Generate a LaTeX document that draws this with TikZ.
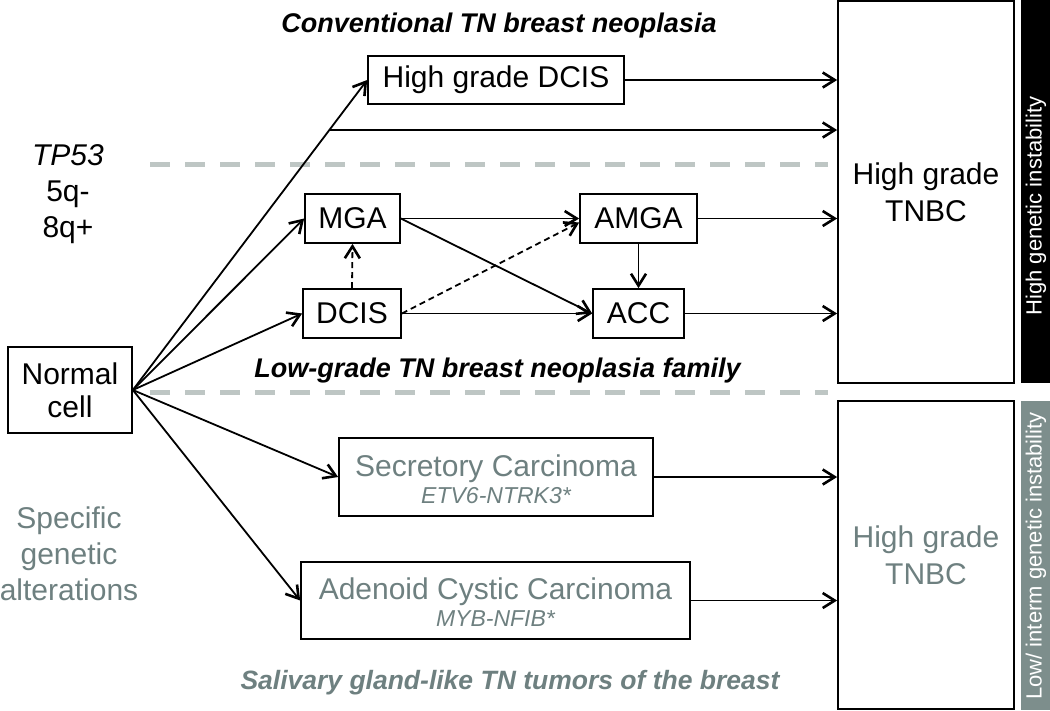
\documentclass[tikz,border=0pt]{standalone}
\usepackage{fontspec}
\setmainfont{Liberation Sans}
\usetikzlibrary{arrows.meta,calc}
\definecolor{gtext}{RGB}{110,128,128}
\definecolor{gbar}{RGB}{125,142,140}
\definecolor{gdash}{RGB}{190,198,196}
\begin{document}
\begin{tikzpicture}[x=1pt,y=-1pt,
  box/.style={draw, line width=1.7pt, inner sep=0pt, align=center},
  conn/.style={line width=1.8pt, -{Straight Barb[length=12pt,width=15pt,line width=2.6pt]}},
  dconn/.style={conn, dash pattern=on 6pt off 4pt},
  sepline/.style={draw=gdash, line width=5pt, dash pattern=on 20pt off 15pt},
  f30/.style={font=\fontsize{30}{36}\selectfont},
  tag/.style={font=\fontsize{23}{26}\selectfont\itshape, text=gtext, anchor=base},
  lab/.style={font=\fontsize{27}{30}\selectfont\bfseries\itshape, anchor=base},
  bartext/.style={rotate=90, text=white, font=\fontsize{22}{24}\selectfont},
]
\useasboundingbox (0,0) rectangle (1050,710);

% separators
\draw[sepline] (150,164) -- (828,164);
\draw[sepline] (150,392) -- (828,392);

% boxes
\node[box, f30, font=\fontsize{30}{33}\selectfont, minimum width=124pt, minimum height=86pt] (nc) at (70,390) {Normal\\cell};
\node[box, f30, minimum width=256pt, minimum height=48pt] (hg) at (496,80) {High grade DCIS};
\node[box, f30, minimum width=95pt, minimum height=49pt] (mga) at (352.5,218.5) {MGA};
\node[box, f30, minimum width=98pt, minimum height=49pt] (dcis) at (352,313.5) {DCIS};
\node[box, f30, minimum width=117pt, minimum height=49pt] (amga) at (638.5,218.5) {AMGA};
\node[box, f30, minimum width=91pt, minimum height=49pt] (acc) at (638.5,313.5) {ACC};
\node[box, minimum width=314pt, minimum height=78pt] (sec) at (496,477) {};
\node[box, minimum width=389pt, minimum height=77pt] (ade) at (495.5,600.5) {};
\node[box, f30, font=\fontsize{30}{37}\selectfont, minimum width=176pt, minimum height=382pt] (tn1) at (926,192) {High grade\\TNBC};
\node[box, f30, font=\fontsize{30}{37}\selectfont, text=gtext, minimum width=176pt, minimum height=308pt] (tn2) at (926,555) {High grade\\TNBC};

% texts inside the gray boxes
\node[f30, text=gtext, anchor=base] (sect) at (496,476) {Secretory Carcinoma};
\node[tag] (secg) at (496,503) {ETV6-NTRK3*};
\node[f30, text=gtext, anchor=base] (adet) at (495.5,599) {Adenoid Cystic Carcinoma};
\node[tag] (adeg) at (495.5,626) {MYB-NFIB*};

% side bars
\node[fill=black, minimum width=29pt, minimum height=383pt, inner sep=0pt, anchor=north west] (bar1) at (1021,0) {};
\node[bartext] (bar1t) at (1036,206) {High genetic instability};
\node[fill=gbar, minimum width=29pt, minimum height=309pt, inner sep=0pt, anchor=north west] (bar2) at (1021,401) {};
\node[bartext] (bar2t) at (1036,556) {Low/ interm genetic instability};

% left labels
\node[f30, align=center] (gen) at (68,194) {\textit{TP53}\\5q-\\8q+};
\node[f30, align=center, text=gtext] (spec) at (69,554) {Specific\\genetic\\alterations};

% titles
\node[lab] (conv) at (499,32) {Conventional TN breast neoplasia};
\node[lab] (lowg) at (497.5,377) {Low-grade TN breast neoplasia family};
\node[lab, text=gtext, font=\fontsize{26.5}{30}\selectfont\bfseries\itshape] (saliv) at (510,689) {Salivary gland-like TN tumors of the breast};

% connectors
\coordinate (br) at ($(nc.east)!0.8387!(hg.west)$);
\draw[conn] (nc.east) -- (hg.west);
\draw[conn] (br) -- (br -| tn1.west);
\draw[conn] (nc.east) -- (mga.west);
\draw[conn] (nc.east) -- (dcis.west);
\draw[conn] (nc.east) -- (sec.west);
\draw[conn] (nc.east) -- (ade.west);
\draw[conn] (hg.east) -- (hg.east -| tn1.west);
\draw[conn] (mga.east) -- (amga.west);
\draw[conn] (mga.east) -- (acc.west);
\draw[conn] (dcis.east) -- (acc.west);
\draw[dconn] (dcis.east) -- ([yshift=-4pt]amga.west);
\draw[dconn] (dcis.north) -- (mga.south);
\draw[conn] (amga.south) -- (acc.north);
\draw[conn] (amga.east) -- (amga.east -| tn1.west);
\draw[conn] (acc.east) -- (acc.east -| tn1.west);
\draw[conn] (sec.east) -- (sec.east -| tn2.west);
\draw[conn] (ade.east) -- (ade.east -| tn2.west);
\end{tikzpicture}
\end{document}
